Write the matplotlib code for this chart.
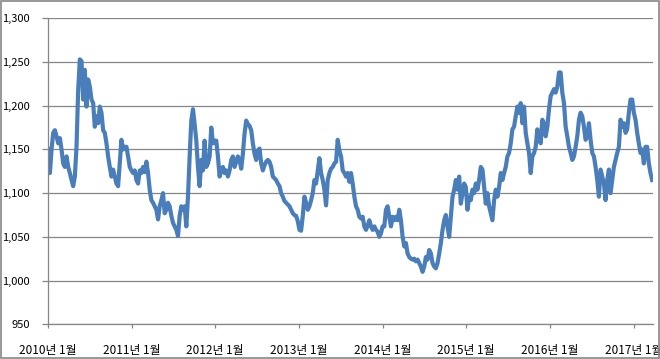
import pandas as pd
import matplotlib
matplotlib.use('Agg')
import matplotlib.pyplot as plt
from matplotlib.patches import Rectangle
from matplotlib.ticker import FuncFormatter

plt.rcParams['font.family'] = ['Noto Sans CJK KR', 'DejaVu Sans']

# KRW per USD at evenly spaced dates
start_date = '2010-01-02'
end_date = '2017-03-23'

rate_2010 = [1150, 1123, 1150, 1169, 1172, 1165, 1157, 1163, 1150, 1134,
             1130, 1142, 1130, 1123, 1115, 1108, 1119, 1153, 1218, 1253,
             1251, 1207, 1241, 1199, 1230, 1222, 1207, 1203, 1176, 1188,
             1180, 1199, 1192, 1172, 1169, 1157, 1142, 1130, 1119, 1127,
             1119, 1111, 1108, 1134, 1161, 1150, 1153, 1153, 1142, 1130]
rate_2011 = [1126, 1123, 1126, 1115, 1111, 1126, 1123, 1130, 1124, 1136,
             1123, 1104, 1092, 1089, 1085, 1081, 1070, 1085, 1092, 1100,
             1077, 1081, 1089, 1085, 1074, 1066, 1062, 1058, 1051, 1074,
             1085, 1081, 1085, 1062, 1096, 1142, 1183, 1196, 1179, 1160,
             1130, 1108, 1138, 1126, 1160, 1130, 1134, 1142, 1175, 1157,
             1160, 1160, 1142, 1119]
rate_2012 = [1126, 1130, 1123, 1126, 1119, 1126, 1138, 1142, 1130, 1136,
             1142, 1138, 1128, 1145, 1168, 1183, 1179, 1177, 1172, 1157,
             1145, 1138, 1149, 1151, 1134, 1126, 1132, 1136, 1138, 1136,
             1130, 1119, 1117, 1115, 1111, 1108, 1100, 1096, 1091, 1089,
             1087, 1085, 1081, 1077, 1075, 1074, 1068, 1058, 1057, 1074,
             1096, 1089, 1081, 1085]
rate_2013 = [1092, 1100, 1115, 1111, 1126, 1140, 1123, 1115, 1104, 1086,
             1115, 1123, 1128, 1130, 1134, 1136, 1161, 1149, 1142, 1126,
             1123, 1119, 1123, 1113, 1123, 1111, 1096, 1085, 1081, 1073,
             1071, 1073, 1062, 1058, 1063, 1069, 1062, 1058, 1062, 1058,
             1056, 1050, 1054, 1062, 1062, 1081, 1085, 1073, 1062, 1073,
             1069, 1073, 1069, 1081]
rate_2014 = [1069, 1050, 1039, 1043, 1031, 1027, 1025, 1024, 1025, 1022,
             1024, 1020, 1016, 1010, 1016, 1027, 1024, 1035, 1031, 1020,
             1016, 1014, 1020, 1031, 1043, 1058, 1069, 1075, 1062, 1050,
             1073, 1096, 1104, 1115, 1104, 1119, 1088, 1100, 1111, 1107,
             1081, 1096, 1092, 1104, 1100, 1111, 1104, 1115]
rate_2015 = [1130, 1127, 1107, 1088, 1100, 1085, 1077, 1069, 1092, 1104,
             1096, 1107, 1123, 1115, 1123, 1130, 1142, 1146, 1157, 1173,
             1176, 1188, 1199, 1192, 1203, 1180, 1199, 1169, 1157, 1146,
             1123, 1142, 1146, 1153, 1173, 1161, 1157, 1184, 1180, 1165,
             1176, 1196, 1211, 1215, 1219, 1215, 1222, 1238]
rate_2016 = [1238, 1215, 1203, 1176, 1165, 1153, 1146, 1138, 1142, 1153,
             1165, 1184, 1192, 1188, 1176, 1161, 1165, 1180, 1161, 1146,
             1142, 1130, 1115, 1096, 1127, 1119, 1111, 1092, 1115, 1127,
             1100, 1115, 1130, 1138, 1146, 1153, 1184, 1176, 1180, 1169,
             1173, 1192, 1207, 1207, 1192, 1184, 1169, 1157, 1146, 1150,
             1134, 1153, 1153, 1134, 1123, 1115]

krw_usd = rate_2010 + rate_2011 + rate_2012 + rate_2013 + rate_2014 + rate_2015 + rate_2016
dates = pd.date_range(start_date, end_date, periods=len(krw_usd))

tick_years = list(range(2010, 2018))
tick_labels = ['%d년 1월' % y for y in tick_years]
y_ticks = list(range(950, 1301, 50))

grey = '#868686'

fig = plt.figure(figsize=(6.6, 3.59), dpi=100)
ax = fig.add_axes([48 / 660, 1 - 324.3 / 359, 605.3 / 660, (324.3 - 18.3) / 359])

ax.plot(dates, krw_usd, color='#4a7ebb', lw=3.0, solid_joinstyle='round')

ax.set_ylim(950, 1300)
ax.set_xlim(pd.Timestamp('2010-01-01'), pd.Timestamp('2017-03-28'))
ax.set_yticks(y_ticks)
ax.yaxis.set_major_formatter(FuncFormatter(lambda v, p: '{:,.0f}'.format(v)))
ax.set_xticks([pd.Timestamp('%d-01-01' % y) for y in tick_years])
ax.set_xticklabels(tick_labels)

ax.grid(axis='y', color=grey, lw=0.9)
ax.set_axisbelow(True)
for side in ['top', 'right']:
    ax.spines[side].set_visible(False)
for side in ['left', 'bottom']:
    ax.spines[side].set_color(grey)
    ax.spines[side].set_linewidth(0.9)

ax.tick_params(axis='y', direction='out', length=4, width=0.9, color=grey,
               pad=9, labelsize=8, labelcolor='black')
ax.tick_params(axis='x', direction='out', length=3, width=0.9, color=grey,
               pad=11, labelsize=8.5, labelcolor='black')

fig.patches.append(Rectangle((0.001, 0.002), 0.997, 0.996, transform=fig.transFigure,
                             fill=False, edgecolor=grey, lw=1.2))

fig.savefig('out.png', dpi=100)
